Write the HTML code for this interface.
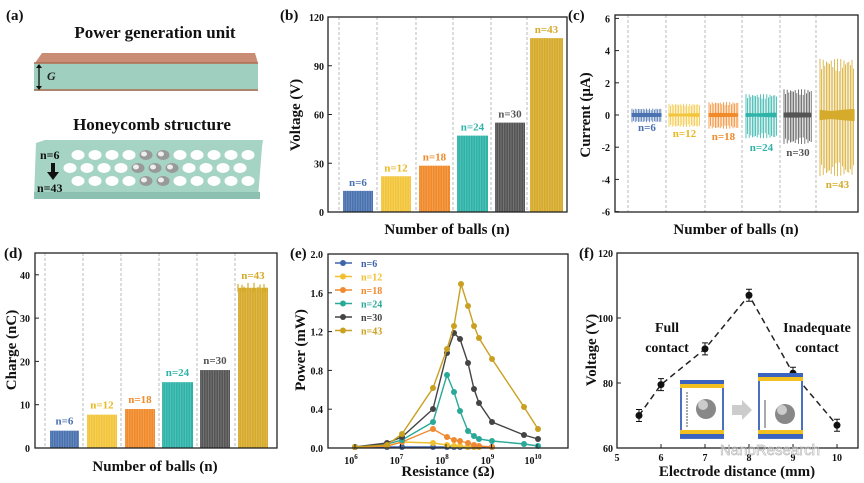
<!DOCTYPE html>
<html><head><meta charset="utf-8"><style>
html,body{margin:0;padding:0;background:#fff;}
svg{display:block;font-family:"Liberation Serif",serif;font-weight:bold;}
</style></head><body>
<svg id="s" width="864" height="483" viewBox="0 0 864 483" xmlns="http://www.w3.org/2000/svg">
<rect width="864" height="483" fill="#fff"/>
<g font-size="15" fill="#111">
<text x="6" y="20">(a)</text>
<text x="280" y="20">(b)</text>
<text x="568" y="20">(c)</text>
<text x="4" y="258">(d)</text>
<text x="290" y="258">(e)</text>
<text x="579" y="258">(f)</text>
</g>
<text x="155" y="38" font-size="17" text-anchor="middle" fill="#111">Power generation unit</text>
<polygon points="35,63 42,53 255,53 258,63" fill="#c88d74"/>
<rect x="34" y="63" width="224" height="28" fill="#9fcfbf"/>
<line x1="34" y1="63" x2="258" y2="63" stroke="#b06d50" stroke-width="1.5"/>
<line x1="34" y1="90" x2="258" y2="90" stroke="#b06d50" stroke-width="1.5"/>
<line x1="39" y1="65" x2="39" y2="89" stroke="#111" stroke-width="1.3"/>
<polygon points="36,68 39,64 42,68" fill="#111"/><polygon points="36,86 39,90 42,86" fill="#111"/>
<text x="47" y="80" font-size="12" font-style="italic" fill="#222">G</text>
<text x="152" y="130" font-size="17" text-anchor="middle" fill="#111">Honeycomb structure</text>
<polygon points="36,143 45,140 263,140 262,147 258,198 34,198" fill="#a5d4c5"/>
<rect x="34" y="192" width="226" height="7" fill="#8cc0b0"/>
<g id="holes"></g>
<text x="40" y="159" font-size="12" fill="#111">n=6</text>
<rect x="51" y="163" width="4" height="10" fill="#111"/><polygon points="47,172 59,172 53,180" fill="#111"/>
<text x="37" y="192" font-size="12" fill="#111">n=43</text>
<g id="dyn"></g>
<g font-size="15" fill="#111" text-anchor="middle">
<text x="447" y="234">Number of balls (n)</text>
<text x="736" y="234">Number of balls (n)</text>
<text x="155" y="471">Number of balls (n)</text>
<text x="448" y="476">Resistance (Ω)</text>
<text x="737" y="476">Electrode distance (mm)</text>
<text transform="translate(300,115) rotate(-90)">Voltage (V)</text>
<text transform="translate(590,115) rotate(-90)">Current (μA)</text>
<text transform="translate(16,350) rotate(-90)">Charge (nC)</text>
<text transform="translate(305,350) rotate(-90)">Power (mW)</text>
<text transform="translate(596,350) rotate(-90)">Voltage (V)</text>
</g>
<g font-size="14" fill="#111" text-anchor="middle">
<text x="667" y="332">Full</text><text x="667" y="352">contact</text>
<text x="817" y="332">Inadequate</text><text x="817" y="352">contact</text>
</g>
<rect x="681" y="381" width="42" height="57" fill="#fff" stroke="#4a70c0" stroke-width="2"/>
<rect x="680" y="380" width="44" height="4" fill="#3a64c0"/><rect x="680" y="384" width="44" height="4" fill="#f2c020"/>
<rect x="680" y="430" width="44" height="4" fill="#f2c020"/><rect x="680" y="434" width="44" height="4" fill="#3a64c0"/>
<circle cx="706" cy="409" r="10" fill="#888"/><circle cx="703" cy="405" r="5" fill="#ccc"/>
<line x1="687" y1="392" x2="687" y2="427" stroke="#555" stroke-dasharray="2,1"/>
<polygon points="732,405 742,405 742,400 752,410 742,420 742,415 732,415" fill="#ccc"/>
<rect x="759" y="374" width="43" height="64" fill="#fff" stroke="#4a70c0" stroke-width="2"/>
<rect x="758" y="373" width="45" height="4" fill="#3a64c0"/><rect x="758" y="377" width="45" height="4" fill="#f2c020"/>
<rect x="758" y="430" width="45" height="4" fill="#f2c020"/><rect x="758" y="434" width="45" height="4" fill="#3a64c0"/>
<circle cx="785" cy="414" r="10" fill="#888"/><circle cx="782" cy="410" r="5" fill="#ccc"/>
<line x1="765" y1="400" x2="765" y2="428" stroke="#555"/>
<text x="770" y="455" font-size="15" font-weight="normal" fill="none" stroke="#bbb" stroke-width="0.7" text-anchor="middle" font-family="Liberation Sans, sans-serif">NanoResearch</text>
</svg>
<script>
var d=document.getElementById("dyn"),H="";
function L(x1,y1,x2,y2,c,w,da,op){H+='<line x1="'+x1+'" y1="'+y1+'" x2="'+x2+'" y2="'+y2+'" stroke="'+c+'" stroke-width="'+(w||1)+'"'+(da?' stroke-dasharray="'+da+'"':'')+(op?' stroke-opacity="'+op+'"':'')+'/>';}
function T(x,y,s,sz,c,a){H+='<text x="'+x+'" y="'+y+'" font-size="'+sz+'" fill="'+(c||"#111")+'" text-anchor="'+(a||"middle")+'">'+s+'</text>';}
function R(x,y,w,h,c){H+='<rect x="'+x+'" y="'+y+'" width="'+w+'" height="'+h+'" fill="'+c+'"/>';}
function frame(x1,y1,x2,y2){H+='<rect x="'+x1+'" y="'+y1+'" width="'+(x2-x1)+'" height="'+(y2-y1)+'" fill="none" stroke="#222" stroke-width="1.3"/>';}
var C=["#4a72b0","#f2c53a","#f08a2a","#2fb3a8","#555555","#d6aa2a"];
var N=["n=6","n=12","n=18","n=24","n=30","n=43"];
var hh="";for(var r=0;r<3;r++){for(var i=0;i<11;i++){var x=78+i*17+(r==1?-8:0),y=155+r*13;if(r==1&&i==0)x=70;
var ball=(r==0&&(i==4||i==5))||(r==1&&(i==4||i==5||i==6))||(r==2&&(i==4||i==5));
hh+='<ellipse cx="'+x+'" cy="'+y+'" rx="6.5" ry="5" fill="'+(ball?"#999":"#fff")+'"/>';if(ball)hh+='<ellipse cx="'+(x-2)+'" cy="'+(y-1)+'" rx="3" ry="2.5" fill="#eee"/>';}}
document.getElementById("holes").innerHTML=hh;
function bar(x1,x2,top,bot,c){R(x1,top,x2-x1,bot-top,c);for(var x=x1+1;x<x2;x+=2.5)L(x.toFixed(1),top,x.toFixed(1),bot,"#fff",0.5,null,0.35);}
var bx1=328,bx2=567,by1=17,by2=212;
[339,377,416,453,491,527].forEach(function(x){L(x,by1,x,by2,"#aaa",0.8,"3,2");});
var bb=[[343,373,13],[381,411,22],[419,450,28.5],[457,488,47],[495,525,55],[530,563,107]];
bb.forEach(function(b,i){var top=by2-b[2]*1.625;bar(b[0],b[1],top,by2,C[i]);T((b[0]+b[1])/2,top-5,N[i],11,i==1?"#e8b820":C[i]);});
frame(bx1,by1,bx2,by2);
[0,30,60,90,120].forEach(function(v){var y=by2-v*1.625;L(bx1,y,bx1+4,y,"#222",1);T(bx1-4,y+4,v,10,"#111","end");});
var cx1=615,cx2=858,cy1=15,cy2=212,c0=115,cs=16.1;
[628,666,705,742,780,816].forEach(function(x){L(x,cy1,x,cy2,"#aaa",0.8,"3,2");});
var cg=[[632,662,.4,.45,.08,131],[669,700,.7,.75,.08,137],[709,738,.8,.85,.08,140],[746,777,1.3,1.45,.1,151],[784,812,1.6,1.8,.1,156],[820,855,3.5,3.8,.25,188]];
cg.forEach(function(g,i){var k=0;for(var x=g[0];x<g[1];x+=1.6){k++;var f=0.75+0.25*Math.abs(Math.sin(k*1.7));L(x.toFixed(1),(c0-g[2]*cs*f).toFixed(1),x.toFixed(1),(c0+g[3]*cs*f).toFixed(1),C[i],0.8);}
for(var x=g[0];x<g[1];x+=1){var a=g[4]*cs*(1+0.6*Math.abs(Math.sin(x*3.1)));L(x,(c0-a).toFixed(1),x,(c0+a).toFixed(1),C[i],1.2);}
T((g[0]+g[1])/2,g[5],N[i],11,i==1?"#e8b820":C[i]);});
frame(cx1,cy1,cx2,cy2);
[6,4,2,0,-2,-4,-6].forEach(function(v){var y=c0-v*cs;L(cx1,y,cx1+4,y,"#222",1);T(cx1-5,y+4,v,10,"#111","end");});
var dx1=35,dx2=277,dy1=253,dy2=448,ds=4.33;
[45,83,121,159,197,235].forEach(function(x){L(x,dy1,x,dy2,"#aaa",0.8,"3,2");});
var db=[[50,79,4],[87,117,7.7],[125,155,9],[162,193,15.2],[200,230,18],[238,268,37]];
db.forEach(function(b,i){var top=dy2-b[2]*ds;bar(b[0],b[1],top,dy2,C[i]);if(i==5){var k=0;for(var x=b[0];x<b[1];x+=2){k++;var jj=Math.sin(k*2.3)*1.2;L(x,(top-jj*ds).toFixed(1),x,top+4,C[i],1.2);}}T((b[0]+b[1])/2,top-6-(i==5?3:0),N[i],11,i==1?"#e8b820":C[i]);});
frame(dx1,dy1,dx2,dy2);
[0,10,20,30,40].forEach(function(v){var y=dy2-v*ds;L(dx1,y,dx1+4,y,"#222",1);T(dx1-5,y+4,v,10,"#111","end");});
var ex1=328,ex2=568,ey1=254,ey2=448;
function ex(l){return 355+(l-6)*45.5;}
var S=[
[[355,447],[387,447],[402,447],[433,447],[447,447],[454,447],[460,447],[468,447],[474,447],[479,447],[492,447]],
[[355,447],[387,446],[402,442],[433,443],[447,445],[454,446],[460,446],[468,447],[474,447],[479,447]],
[[355,447],[387,446],[402,442],[433,429],[447,437],[454,440],[460,441],[468,443],[474,445],[479,446],[492,447]],
[[355,447],[387,444],[402,440],[433,422],[447,375],[454,392],[460,411],[468,431],[474,436],[479,439],[492,441],[524,444],[538,446]],
[[355,447],[387,443],[402,437],[433,409],[447,353],[454,333],[460,339],[468,363],[474,389],[479,403],[492,422],[524,435],[538,439]],
[[355,447],[387,445],[402,434],[433,388],[447,349],[454,326],[461,284],[468,306],[474,326],[479,338],[492,359],[524,407],[538,429]]];
var EC=["#3f64a8","#f0c030","#f08a30","#2aa898","#444","#c9a020"];
S.forEach(function(s,i){var p=s.map(function(q){return q.join(",");}).join(" ");H+='<polyline points="'+p+'" fill="none" stroke="'+EC[i]+'" stroke-width="1.4"/>';s.forEach(function(q){H+='<circle cx="'+q[0]+'" cy="'+q[1]+'" r="3" fill="'+EC[i]+'"/>';});});
frame(ex1,ey1,ex2,ey2);
[0,0.4,0.8,1.2,1.6,2.0].forEach(function(v){var y=ey2-v*97;L(ex1,y,ex1+4,y,"#222",1);T(ex1-5,y+4,v.toFixed(1),10,"#111","end");});
for(var e=6;e<=10;e++){var x=ex(e);L(x,ey2,x,ey2-4,"#222",1);H+='<text x="'+(x-4)+'" y="'+(ey2+16)+'" font-size="10" fill="#111" text-anchor="middle">10<tspan font-size="7" dy="-5">'+e+'</tspan></text>';}
N.forEach(function(n,i){var y=263+i*13.5;L(335,y,352,y,EC[i],1.5);H+='<circle cx="343" cy="'+y+'" r="3" fill="'+EC[i]+'"/>';T(361,y+4,n,10,EC[i],"start");});
var fx1=617,fx2=858,fy1=253,fy2=448;
function fx(v){return 617+(v-5)*44;}function fy(v){return 448-(v-60)*3.25;}
var F=[[5.5,70],[6,79.5],[7,90.5],[8,107],[9,83],[10,67]];
H+='<polyline points="'+F.map(function(q){return fx(q[0])+","+fy(q[1]);}).join(" ")+'" fill="none" stroke="#222" stroke-width="1.5" stroke-dasharray="6,4"/>';
F.forEach(function(q){var x=fx(q[0]),y=fy(q[1]);L(x,y-6,x,y+6,"#111",1);L(x-3,y-6,x+3,y-6,"#111",1);L(x-3,y+6,x+3,y+6,"#111",1);H+='<circle cx="'+x+'" cy="'+y+'" r="3.5" fill="#111"/>';});
frame(fx1,fy1,fx2,fy2);
[60,80,100,120].forEach(function(v){var y=fy(v);L(fx1,y,fx1+4,y,"#222",1);T(fx1-4,y+4,v,10,"#111","end");});
[5,6,7,8,9,10].forEach(function(v){var x=fx(v);L(x,fy2,x,fy2-4,"#222",1);T(x,fy2+13,v,10);});
d.innerHTML=H;
</script>
</body></html>
